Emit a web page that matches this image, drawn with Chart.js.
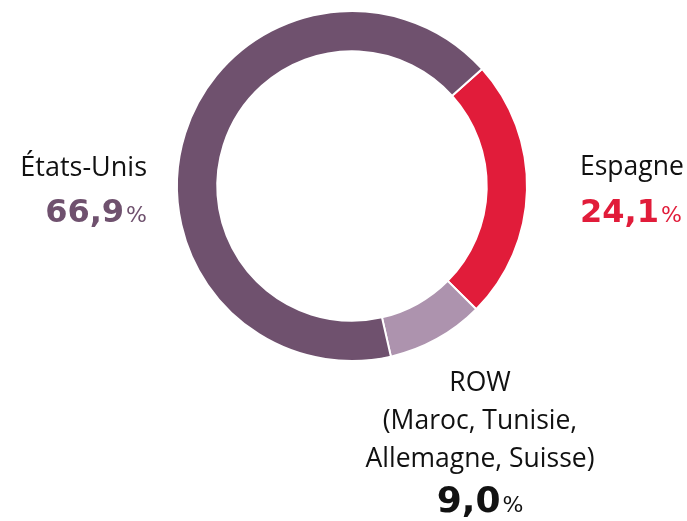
<!DOCTYPE html>
<html>
<head>
<meta charset="utf-8">
<script src="https://cdn.jsdelivr.net/npm/chart.js@4"></script>
<style>
  body { margin: 0; background: #fff; }
  #wrap { width: 687px; height: 521px; position: relative; }
</style>
</head>
<body>
<div id="wrap"><canvas id="myChart"></canvas></div>
<script>
// data
const categories = ["Espagne", "ROW", "États-Unis"];
const valeurs = [24.1, 9.0, 66.9];
const couleurs = ["#e11c3a", "#ad93ae", "#6f516e"];
const couleursTexte = ["#e11c3a", "#111111", "#6f516e"];
const nomsLignes = [
    ["Espagne"],
    ["ROW", "(Maroc, Tunisie,", "Allemagne, Suisse)"],
    ["États-Unis"]
];

const FONT = "'Open Sans', 'Noto Sans', sans-serif";
const FONT_NUM = "'DejaVu Sans', sans-serif";

function fmt(v){
    return v.toFixed(1).replace(".", ",");
}

// position des étiquettes
const posEtiquettes = [
    { x: 580, align: "left",   lignes: [175], val: 222 },
    { x: 480, align: "center", lignes: [391, 429, 467], val: 512 },
    { x: 147, align: "right",  lignes: [176], val: 222 }
];

const etiquettes = {
    id: "etiquettes",
    afterDraw(chart){
        const ctx = chart.ctx;
        ctx.save();
        ctx.textBaseline = "alphabetic";
        categories.forEach((c, i) => {
            const p = posEtiquettes[i];
            const taille = i == 2 ? 27 : 26.5;
            ctx.fillStyle = "#111111";
            ctx.font = "400 " + taille + "px " + FONT;
            ctx.textAlign = p.align;
            nomsLignes[i].forEach((l, j) => {
                ctx.fillText(l, p.x, p.lignes[j]);
            });

            // valeur en gras + % plus petit
            const num = fmt(valeurs[i]);
            const fBold = "bold " + (i == 1 ? 36 : 32) + "px " + FONT_NUM;
            const fPct = "400 22px " + FONT_NUM;
            const gap = 2;
            ctx.font = fBold;
            const wNum = ctx.measureText(num).width;
            ctx.font = fPct;
            const wPct = ctx.measureText("%").width + gap;
            let x0;
            if (p.align == "left") x0 = p.x;
            else if (p.align == "right") x0 = p.x - wNum - wPct;
            else x0 = p.x - (wNum + wPct) / 2;
            ctx.textAlign = "left";
            ctx.fillStyle = couleursTexte[i];
            ctx.font = fBold;
            ctx.fillText(num, x0, p.val);
            ctx.font = fPct;
            ctx.fillText("%", x0 + wNum + gap, p.val);
        });
        ctx.restore();
    }
};

const ctx = document.getElementById("myChart");
new Chart(ctx, {
    type: "doughnut",
    data: {
        labels: categories,
        datasets: [{
            data: valeurs,
            backgroundColor: couleurs,
            borderColor: "#ffffff",
            borderWidth: 2
        }]
    },
    options: {
        responsive: true,
        maintainAspectRatio: false,
        animation: false,
        rotation: 48,
        cutout: "77%",
        layout: { padding: { left: 176, top: 10, right: 159, bottom: 159 } },
        plugins: {
            legend: { display: false },
            tooltip: { enabled: false }
        }
    },
    plugins: [etiquettes]
});
</script>
</body>
</html>
